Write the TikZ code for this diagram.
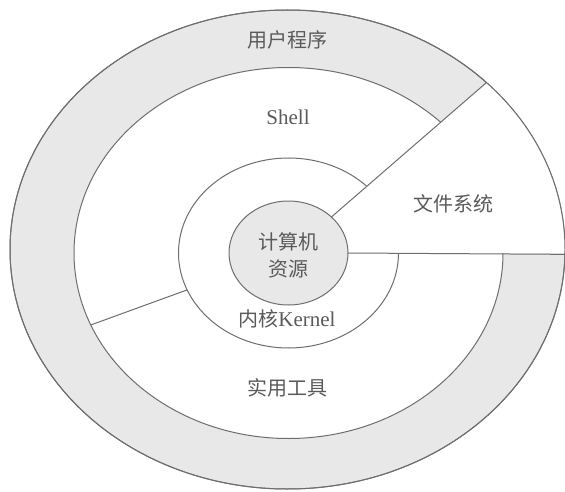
\documentclass[tikz,border=0pt]{standalone}
\usepackage{fontspec}
\setmainfont{Liberation Serif}
\newfontfamily\cjk{Noto Sans CJK SC}
\usetikzlibrary{shapes.geometric}
\definecolor{ringgray}{HTML}{E8E8E8}
\definecolor{linegray}{HTML}{6E6E6E}
\definecolor{txtgray}{HTML}{5A5A5A}
\tikzset{
  layer/.style={ellipse, inner sep=0pt, outer sep=0pt, draw=linegray, line width=1pt},
  lbl/.style={text=txtgray, font=\fontsize{21}{27}\selectfont, inner sep=0pt, align=center},
  cjklbl/.style={text=txtgray, font=\cjk\fontsize{20}{27}\selectfont, inner sep=0pt, align=center},
  divider/.style={draw=linegray, line width=1pt},
}
\begin{document}
\begin{tikzpicture}[x=1pt,y=1pt]
\useasboundingbox (0,0) rectangle (565,491);
\coordinate (C) at (288.5,238);
\coordinate (O) at (287.5,241.5);
% outer gray ring
\node[layer, fill=ringgray, minimum width=555pt, minimum height=479pt] (outer) at (O) {};
% shell region
\node[layer, fill=white, minimum width=429pt, minimum height=371pt] (shell) at (C) {};
% kernel
\node[layer, minimum width=220pt, minimum height=190pt] (kernel) at (C) {};
% file system sector
\begin{scope}
  \clip (O) ellipse [x radius=277.5pt, y radius=239.5pt];
  \fill[white] (C) -- +(40.7:400pt) -- +(0:400pt) -- cycle;
\end{scope}
\node[layer, minimum width=555pt, minimum height=479pt] (outerrim) at (O) {};
% computer resources
\node[layer, fill=ringgray, minimum width=119pt, minimum height=104pt] (res) at (C) {};
% dividers
\draw[divider] (res.40.7) -- (outerrim.40.1);
\draw[divider] (res.0) -- (outerrim.359.3);
\draw[divider] (kernel.200.5) -- (shell.200.5);
% labels
\node[cjklbl] (user) at (287,451) {用户程序};
\node[lbl] (shelltxt) at (288,374) {Shell};
\node[cjklbl] (fs) at (453,287) {文件系统};
\node[cjklbl] (restxt) at (288,236) {计算机\\资源};
\node[lbl] (kerneltxt) at (287,172) {{\cjk\fontsize{20}{27}\selectfont 内核}Kernel};
\node[cjklbl] (util) at (287,103) {实用工具};
\end{tikzpicture}
\end{document}
